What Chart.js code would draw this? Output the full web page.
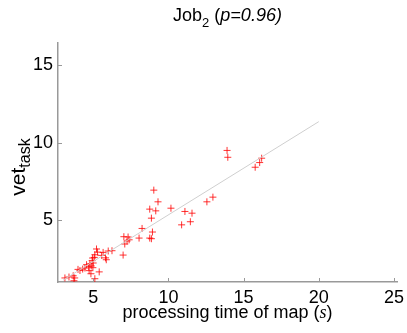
<!DOCTYPE html>
<html>
<head>
<meta charset="utf-8">
<script src="https://cdn.jsdelivr.net/npm/chart.js@4"></script>
<style>
  body { margin: 0; background: #fff; }
</style>
</head>
<body>
<canvas id="myChart" width="407" height="333"></canvas>
<script>
// processing time of map (s) vs vet_task
const mapTimes = [
    13.9, 13.95, 16.2, 16.07, 15.77, 12.96, 12.56, 9.03, 9.31, 8.76,
    9.16, 8.87, 10.17, 11.1, 11.57, 10.88, 11.46, 8.94, 8.76, 8.87,
    8.25, 8.05, 7.04, 7.32, 7.39, 7.25, 7.1, 6.25, 6.0, 6.99,
    5.82, 5.87, 5.66, 5.22, 5.29, 5.56, 5.11, 5.07, 4.96, 4.93,
    4.78, 4.87, 4.56, 4.7, 4.73, 5.4, 5.11, 4.45, 4.3, 3.99,
    4.12, 3.67, 3.77, 3.39, 3.12, 3.72, 5.0, 4.98, 4.85
];
const vetTask = [
    9.5, 9.06, 9.0, 8.72, 8.42, 6.5, 6.2, 6.95, 6.2, 5.73,
    5.62, 5.15, 5.79, 5.58, 5.47, 4.72, 4.92, 4.26, 3.87, 3.83,
    4.49, 3.87, 3.96, 3.94, 3.76, 3.68, 3.49, 3.06, 3.04, 2.78,
    2.6, 2.48, 2.95, 3.17, 2.97, 2.76, 2.8, 2.63, 2.59, 2.42,
    2.22, 2.08, 2.16, 2.03, 1.78, 1.7, 1.26, 1.95, 1.88, 1.86,
    1.79, 1.45, 1.31, 1.37, 1.31, 1.13, 2.27, 1.97, 1.58
];

// fitted line end points
const fitX = [3.0, 20.0];
const fitY = [1.17, 11.35];

const xTicks = [5, 10, 15, 20, 25];
const yTicks = [5, 10, 15];

const points = mapTimes.map((x, i) => ({ x: x, y: vetTask[i] }));
const fitLine = fitX.map((x, i) => ({ x: x, y: fitY[i] }));

const FONT = '"Liberation Sans", Arial, Helvetica, sans-serif';

// inward tick marks and the text around the plot
const decorations = {
    id: 'decorations',
    afterDraw(chart) {
        const ctx = chart.ctx;
        const xs = chart.scales.x;
        const ys = chart.scales.y;
        const area = chart.chartArea;

        ctx.save();
        ctx.strokeStyle = '#999';
        ctx.lineWidth = 1;
        xTicks.forEach(v => {
            const px = Math.round(xs.getPixelForValue(v)) + 0.5;
            ctx.beginPath();
            ctx.moveTo(px, area.bottom);
            ctx.lineTo(px, area.bottom - 4);
            ctx.stroke();
        });
        yTicks.forEach(v => {
            const py = Math.round(ys.getPixelForValue(v)) + 0.5;
            ctx.beginPath();
            ctx.moveTo(area.left, py);
            ctx.lineTo(area.left + 4, py);
            ctx.stroke();
        });

        ctx.fillStyle = '#000';
        ctx.textBaseline = 'alphabetic';
        ctx.textAlign = 'left';

        // title: Job_2 (p=0.96)
        const cx = (area.left + area.right) / 2;
        const parts = [
            { t: 'Job', f: '18px ' + FONT, dy: 0 },
            { t: '2', f: '13px ' + FONT, dy: 6 },
            { t: ' (', f: '18px ' + FONT, dy: 0 },
            { t: 'p=0.96)', f: 'italic 18px ' + FONT, dy: 0 }
        ];
        drawParts(ctx, parts, cx, 21);

        // x axis title
        const xParts = [
            { t: 'processing time of map (', f: '18px ' + FONT, dy: 0 },
            { t: 's', f: 'italic 18px "Liberation Serif", "DejaVu Serif", serif', dy: 0 },
            { t: ')', f: '18px ' + FONT, dy: 0 }
        ];
        drawParts(ctx, xParts, cx, 318);

        // y axis title, rotated
        ctx.translate(25, 167);
        ctx.rotate(-Math.PI / 2);
        const yParts = [
            { t: 'vet', f: '21px ' + FONT, dy: 0 },
            { t: 'task', f: '16px ' + FONT, dy: 5 }
        ];
        drawParts(ctx, yParts, 0, 0);
        ctx.restore();
    }
};

function drawParts(ctx, parts, cx, baseY) {
    let total = 0;
    parts.forEach(p => {
        ctx.font = p.f;
        p.w = ctx.measureText(p.t).width;
        total += p.w;
    });
    let x = cx - total / 2;
    parts.forEach(p => {
        ctx.font = p.f;
        ctx.fillText(p.t, x, baseY + p.dy);
        x += p.w;
    });
}

new Chart(document.getElementById('myChart'), {
    type: 'scatter',
    data: {
        datasets: [
            {
                label: 'fit',
                type: 'line',
                data: fitLine,
                borderColor: '#cfcfcf',
                borderWidth: 1,
                pointRadius: 0,
                fill: false
            },
            {
                label: 'jobs',
                data: points,
                pointStyle: 'cross',
                pointRadius: 3.5,
                borderColor: 'rgba(255, 0, 0, 0.8)',
                borderWidth: 1
            }
        ]
    },
    options: {
        responsive: false,
        animation: false,
        layout: { padding: { top: 43, right: 10, left: 0, bottom: 0 } },
        plugins: {
            legend: { display: false },
            tooltip: { enabled: false },
            title: { display: false }
        },
        scales: {
            x: {
                type: 'linear',
                min: 2.66,
                max: 25.2,
                grid: { display: false, drawTicks: false },
                border: { display: true, color: '#999', width: 1.5 },
                ticks: { color: '#000', font: { family: FONT, size: 18 }, padding: 5, maxRotation: 0 },
                afterBuildTicks: scale => { scale.ticks = xTicks.map(v => ({ value: v })); },
                afterFit: scale => {
                    scale.height = 51;
                    scale.paddingLeft = 0;
                    scale.paddingRight = 0;
                }
            },
            y: {
                type: 'linear',
                min: 1.05,
                max: 16.4,
                grid: { display: false, drawTicks: false },
                border: { display: true, color: '#999', width: 1.5 },
                ticks: { color: '#000', font: { family: FONT, size: 18 }, padding: 5 },
                afterBuildTicks: scale => { scale.ticks = yTicks.map(v => ({ value: v })); },
                afterFit: scale => {
                    scale.width = 58;
                    scale.paddingTop = 0;
                    scale.paddingBottom = 0;
                }
            }
        }
    },
    plugins: [decorations]
});
</script>
</body>
</html>
